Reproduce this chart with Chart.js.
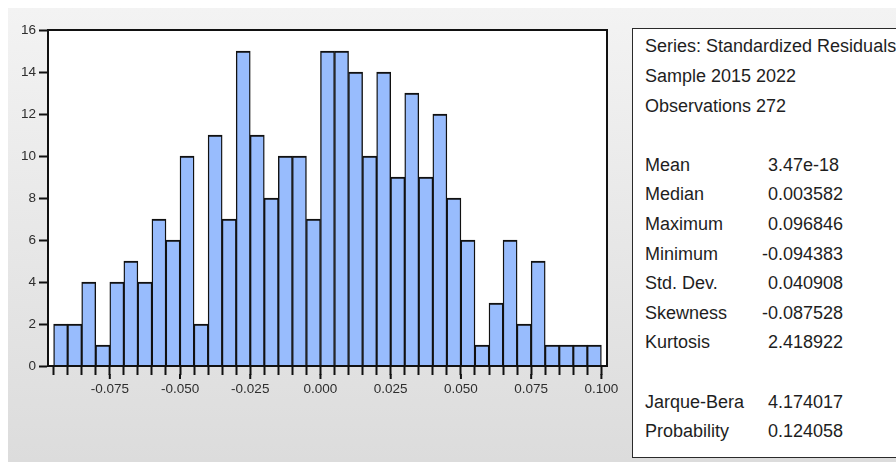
<!DOCTYPE html>
<html>
<head>
<meta charset="utf-8">
<script src="https://cdn.jsdelivr.net/npm/chart.js@4"></script>
<style>
  html, body { margin: 0; padding: 0; width: 896px; height: 462px; overflow: hidden; background: #fff; }
  #panel { position: absolute; left: 8px; top: 8px; width: 888px; height: 454px;
           background: linear-gradient(to bottom, #f3f3f3, #dcdcdc); }
  #hist { position: absolute; left: 0; top: 0; }
  #statsBox { position: absolute; left: 632px; top: 28px; width: 300px; height: 428px;
              background: #fff; border: 1.6px solid #2a2a2a; }
  .row { position: absolute; height: 29.6px; line-height: 29.6px; font-family: "Liberation Sans", Arial, sans-serif;
         font-size: 18px; color: #1e1e1e; white-space: nowrap; }
  .neg { margin-left: -0.333em; }
</style>
</head>
<body>
<div id="panel"></div>
<canvas id="hist" width="640" height="462"></canvas>
<div id="statsBox"></div>
<div id="stats"></div>
<script>
// Residual histogram: lower edge of each bin and its count
const binWidth = 0.005;
const binLower = [
  -0.095, -0.090, -0.085, -0.080, -0.075, -0.070, -0.065, -0.060, -0.055, -0.050,
  -0.045, -0.040, -0.035, -0.030, -0.025, -0.020, -0.015, -0.010, -0.005,
   0.000,  0.005,  0.010,  0.015,  0.020,  0.025,  0.030,  0.035,  0.040,  0.045,
   0.050,  0.055,  0.060,  0.065,  0.070,  0.075,  0.080,  0.085,  0.090,  0.095
];
const counts = [
  2, 2, 4, 1, 4, 5, 4, 7, 6, 10,
  2, 11, 7, 15, 11, 8, 10, 10, 7,
  15, 15, 14, 10, 14, 9, 13, 9, 12, 8,
  6, 1, 3, 6, 2, 5, 1, 1, 1, 1
];

// Axis labels
const xTickLabels = ['-0.075', '-0.050', '-0.025', '0.000', '0.025', '0.050', '0.075', '0.100'];
const yTickValues = [0, 2, 4, 6, 8, 10, 12, 14, 16];

// Descriptive statistics panel
const headerLines = ['Series: Standardized Residuals', 'Sample 2015 2022', 'Observations 272'];
const statNames = ['Mean', 'Median', 'Maximum', 'Minimum', 'Std. Dev.', 'Skewness', 'Kurtosis'];
const statValues = ['3.47e-18', '0.003582', '0.096846', '-0.094383', '0.040908', '-0.087528', '2.418922'];
const testNames = ['Jarque-Bera', 'Probability'];
const testValues = ['4.174017', '0.124058'];

const FONT = '"Liberation Sans", Arial, sans-serif';
const INK = '#111';

function labelFor(v) {
  const hit = xTickLabels.find(l => Math.abs(parseFloat(l) - v) < 1e-9);
  return hit === undefined ? '' : hit;
}

// White plot area and a closed frame around it
const framePlugin = {
  id: 'frame',
  beforeDraw(chart) {
    const { ctx, chartArea: a } = chart;
    ctx.save();
    ctx.fillStyle = '#fff';
    ctx.fillRect(a.left, a.top, a.right - a.left, a.bottom - a.top);
    ctx.restore();
  },
  afterDraw(chart) {
    const { ctx, chartArea: a } = chart;
    ctx.save();
    ctx.strokeStyle = INK;
    ctx.lineWidth = 2;
    ctx.strokeRect(a.left, a.top, a.right - a.left, a.bottom - a.top);
    // labelled x ticks are drawn longer
    const xs = chart.scales.x;
    xs.ticks.forEach(t => {
      if (labelFor(t.value) !== '') {
        const px = xs.getPixelForValue(t.value);
        ctx.beginPath();
        ctx.moveTo(px, a.bottom + 8);
        ctx.lineTo(px, a.bottom + 13);
        ctx.stroke();
      }
    });
    ctx.restore();
  }
};

new Chart(document.getElementById('hist'), {
  type: 'bar',
  data: {
    datasets: [{
      data: binLower.map((lo, i) => ({ x: lo + binWidth / 2, y: counts[i] })),
      backgroundColor: '#98bcfd',
      borderColor: INK,
      borderWidth: { top: 2, left: 1.4, right: 1.4, bottom: 0 },
      barPercentage: 1,
      categoryPercentage: 1
    }]
  },
  options: {
    responsive: false,
    animation: false,
    devicePixelRatio: 1,
    layout: { padding: { top: 30, right: 33, left: 0, bottom: 0 } },
    plugins: { legend: { display: false }, tooltip: { enabled: false } },
    scales: {
      x: {
        type: 'linear',
        min: -0.097,
        max: 0.102,
        offset: false,
        grid: { drawOnChartArea: false, drawTicks: true, tickLength: 9, tickWidth: 2, tickColor: INK, offset: false },
        border: { display: true, color: INK, width: 2 },
        ticks: {
          stepSize: binWidth,
          includeBounds: false,
          autoSkip: false,
          maxRotation: 0,
          padding: 6,
          color: '#2e2e2e',
          font: { family: FONT, size: 13.5 },
          callback: v => labelFor(v)
        },
        afterFit: s => { s.height = 96; }
      },
      y: {
        min: yTickValues[0],
        max: yTickValues[yTickValues.length - 1],
        grid: { drawOnChartArea: false, drawTicks: true, tickLength: 9, tickWidth: 2, tickColor: INK },
        border: { display: true, color: INK, width: 2 },
        afterBuildTicks: s => { s.ticks = yTickValues.map(v => ({ value: v })); },
        ticks: { padding: 3, color: '#2e2e2e', font: { family: FONT, size: 13.5 } },
        afterFit: s => { s.width = 48; }
      }
    }
  },
  plugins: [framePlugin]
});

// Statistics text, one line every 29.6px
const stats = document.getElementById('stats');
function addRow(index, name, value) {
  const top = 32.3 + 29.6 * index;
  const a = document.createElement('div');
  a.className = 'row';
  a.style.left = '645px';
  a.style.top = top + 'px';
  a.textContent = name;
  stats.appendChild(a);
  if (value !== undefined) {
    const b = document.createElement('div');
    b.className = 'row';
    b.style.left = '768px';
    b.style.top = top + 'px';
    const s = document.createElement('span');
    if (value.startsWith('-')) s.className = 'neg';
    s.textContent = value;
    b.appendChild(s);
    stats.appendChild(b);
  }
}
headerLines.forEach((t, i) => addRow(i, t));
statNames.forEach((t, i) => addRow(4 + i, t, statValues[i]));
testNames.forEach((t, i) => addRow(12 + i, t, testValues[i]));
</script>
</body>
</html>
